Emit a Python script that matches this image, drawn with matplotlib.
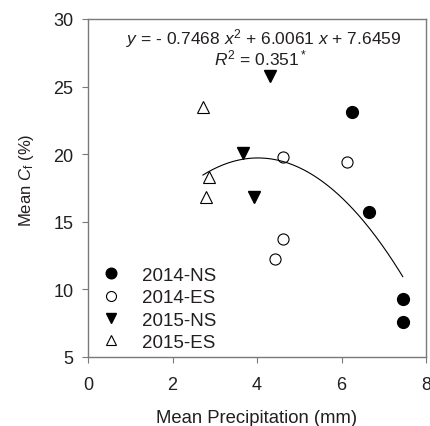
import matplotlib
matplotlib.use("Agg")
import matplotlib.pyplot as plt
import numpy as np

plt.rcParams['font.family'] = ['Liberation Sans', 'DejaVu Sans']
plt.rcParams['mathtext.fontset'] = 'custom'
plt.rcParams['mathtext.rm'] = 'Liberation Sans'
plt.rcParams['mathtext.it'] = 'Liberation Sans:italic'

# data
ns14_x = [6.25, 6.65, 7.45, 7.45]
ns14_y = [23.1, 15.7, 9.3, 7.6]
es14_x = [4.62, 6.13, 4.62, 4.43]
es14_y = [19.8, 19.4, 13.7, 12.25]
ns15_x = [4.31, 3.67, 3.93]
ns15_y = [25.8, 20.1, 16.8]
es15_x = [2.72, 2.86, 2.79]
es15_y = [23.5, 18.3, 16.8]
coef = [-0.7468, 6.0061, 7.6459]
fit_range = [2.72, 7.45]

txt = '#231f20'
gray = '#7a7a7a'

fig = plt.figure(figsize=(4.3, 4.27), dpi=100)
ax = fig.add_axes([0.2047, 0.1616, 0.786, 0.7916])

ax.plot(ns14_x, ns14_y, 'o', color='black', ms=8.5, ls='none', label='2014-NS')
ax.plot(es14_x, es14_y, 'o', mfc='white', mec='black', mew=0.8, ms=8, ls='none', label='2014-ES')
ax.plot(ns15_x, ns15_y, 'v', color='black', ms=8.5, ls='none', label='2015-NS')
ax.plot(es15_x, es15_y, '^', mfc='white', mec='black', mew=0.8, ms=8.5, ls='none', label='2015-ES')

xx = np.linspace(fit_range[0], fit_range[1], 200)
ax.plot(xx, np.polyval(coef, xx), color='black', lw=0.8)

ax.set_xlim(0, 8)
ax.set_ylim(5, 30)
ax.set_xticks([0, 2, 4, 6, 8])
ax.set_yticks([5, 10, 15, 20, 25, 30])
for s in ax.spines.values():
    s.set_color(gray)
    s.set_linewidth(1.0)
ax.tick_params(direction='out', length=4.5, color=gray, labelcolor=txt, labelsize=13)
ax.tick_params(axis='x', pad=9)
ax.tick_params(axis='y', pad=6)

ax.set_xlabel('Mean Precipitation (mm)', fontsize=13.3, color=txt, labelpad=12)
ax.set_ylabel(r'Mean $\mathit{C}_\mathrm{f}$ (%)', fontsize=12, color=txt)
ax.yaxis.set_label_coords(-0.155, 0.527)

ax.text(4.15, 28.6, r'$\mathit{y}$ = - 0.7468 $\mathit{x}^2$ + 6.0061 $\mathit{x}$ + 7.6459',
        ha='center', va='center', fontsize=12.5, color=txt)
ax.text(4.07, 27.15, r'$\mathit{R}^2$ = 0.351$^*$', ha='center', va='center', fontsize=12.5, color=txt)

leg = ax.legend(loc='lower left', bbox_to_anchor=(0.025, 0.018), frameon=False, fontsize=13.5,
                handletextpad=0.95, labelspacing=0.28, borderaxespad=0, borderpad=0,
                handlelength=1.5, markerscale=0.9)
for t in leg.get_texts():
    t.set_color(txt)

fig.savefig('out.png', dpi=100)
